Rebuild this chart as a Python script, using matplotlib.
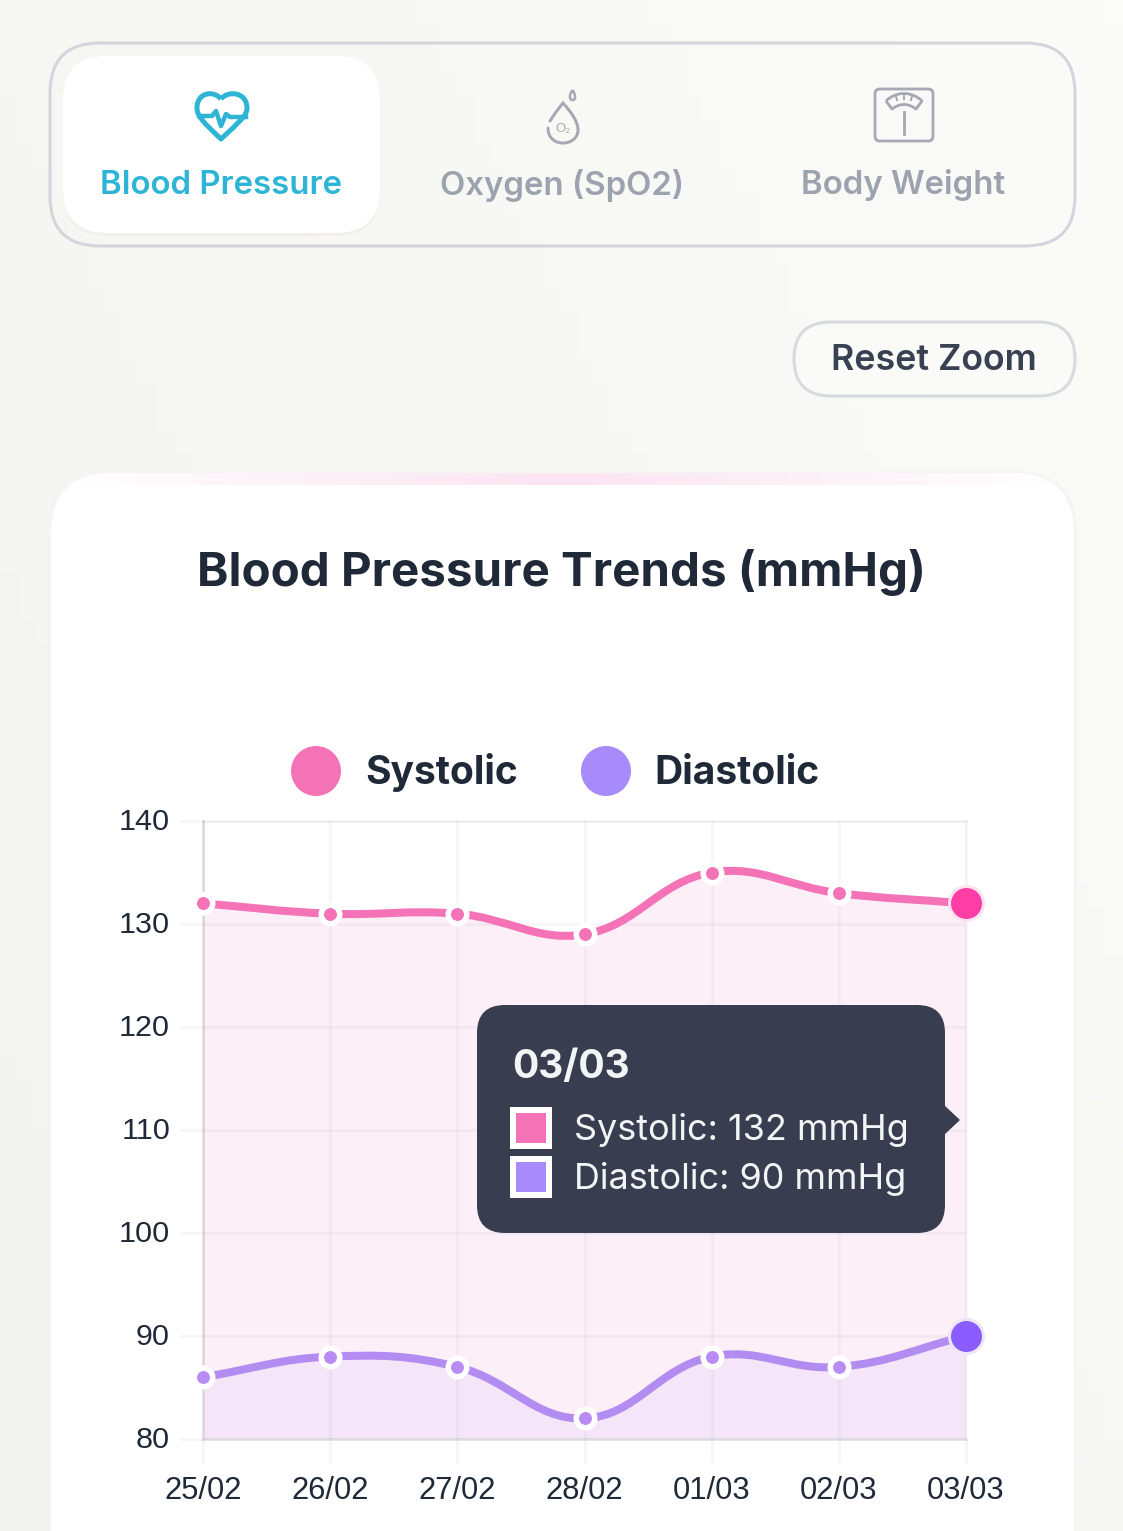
# plot.py
import numpy as np
import matplotlib
matplotlib.use("Agg")
import matplotlib.pyplot as plt
from matplotlib.patches import FancyBboxPatch, PathPatch, Circle, Rectangle, Polygon
from matplotlib.path import Path
from matplotlib.colors import LinearSegmentedColormap
from matplotlib.transforms import ScaledTranslation

W, H = 1123, 1531

dates = ["25/02", "26/02", "27/02", "28/02", "01/03", "02/03", "03/03"]
systolic = [132, 131, 131, 129, 135, 133, 132]
diastolic = [86, 88, 87, 82, 88, 87, 90]
y_ticks = [80, 90, 100, 110, 120, 130, 140]
tab_labels = ["Blood Pressure", "Oxygen (SpO2)", "Body Weight"]

PINK = "#f472b6"
PURPLE = "#a78bfa"
LINE_PURPLE = "#b28cf0"
DARK = "#1f2937"
TOOLTIP = "#383d4f"
GREY_TEXT = "#9ca3af"
ICON_GREY = "#a6a9b4"
CYAN = "#2eb5d6"
GRID = (0.1, 0.1, 0.25, 0.04)
AXIS = "#dfdde2"
INTER = ["Inter", "DejaVu Sans"]
ARIAL = ["Liberation Sans", "DejaVu Sans"]


def px(size):
    # css pixels to points
    return size * 72 / 100


def pixel_axes(zorder):
    ax = fig.add_axes([0, 0, 1, 1], zorder=zorder)
    ax.set_xlim(0, W)
    ax.set_ylim(H, 0)
    ax.axis("off")
    return ax


def round_box(ax, x0, y0, x1, y1, r, **kw):
    p = FancyBboxPatch((x0, y0), x1 - x0, y1 - y0,
                       boxstyle=f"round,pad=0,rounding_size={r}", **kw)
    ax.add_patch(p)
    return p


def spline_path(values, sx, sy, t=0.4):
    # same bezier control points as a chart.js line with tension 0.4
    pts = np.array(list(enumerate(values)), dtype=float)
    scale = np.array([sx, sy])
    n = len(pts)
    verts = [pts[0]]
    codes = [Path.MOVETO]
    before, after = [None] * n, [None] * n
    for i in range(n):
        prev = pts[max(i - 1, 0)]
        cur = pts[i]
        nxt = pts[min(i + 1, n - 1)]
        d01 = np.linalg.norm((cur - prev) * scale)
        d12 = np.linalg.norm((nxt - cur) * scale)
        s01 = d01 / (d01 + d12)
        s12 = d12 / (d01 + d12)
        before[i] = cur - t * s01 * (nxt - prev)
        after[i] = cur + t * s12 * (nxt - prev)
    for i in range(n - 1):
        verts += [after[i], before[i + 1], pts[i + 1]]
        codes += [Path.CURVE4] * 3
    return verts, codes


fig = plt.figure(figsize=(W / 100, H / 100), dpi=100)

# --- Background ---
bg = pixel_axes(0)
xx, yy = np.meshgrid(np.linspace(0, 1, 64), np.linspace(0, 1, 64))
bg_cmap = LinearSegmentedColormap.from_list("bg", ["#fbfbf9", "#f3f3ef"])
bg.imshow((1 - xx) * 0.6 + yy * 0.4, cmap=bg_cmap, extent=(0, W, H, 0), aspect="auto", vmin=0, vmax=1, zorder=0)
bg.set_xlim(0, W)
bg.set_ylim(H, 0)

# --- Tab bar ---
round_box(bg, 50, 43, 1075, 246, 50, fc="none", ec="#d3d5dd", lw=px(3), zorder=1)
round_box(bg, 63, 59, 380, 236, 44, fc="#ecebe8", ec="none", alpha=0.5, zorder=1)
round_box(bg, 63, 56, 380, 233, 44, fc="white", ec="none", zorder=2)
tab_x = [221, 562, 903]
tab_col = [CYAN, GREY_TEXT, GREY_TEXT]
for x, label, col in zip(tab_x, tab_labels, tab_col):
    bg.text(x, 185, label, ha="center", va="center", fontsize=px(33), fontweight="semibold",
            color=col, family=INTER, zorder=3)

# heart icon
heart = Path([(221, 99), (214, 90), (197, 92), (197, 108), (197, 116), (203, 122), (221, 139),
              (239, 122), (247, 116), (247, 108), (247, 92), (228, 90), (221, 99)],
             [Path.MOVETO] + [Path.CURVE4] * 12)
bg.add_patch(PathPatch(heart, fc="none", ec=CYAN, lw=px(5), joinstyle="round", zorder=3))
bg.plot([199, 212, 216, 221, 226, 230, 246], [116, 116, 111, 126, 114, 117, 117], color=CYAN, lw=px(4.5),
        solid_joinstyle="round", zorder=3)

# drop icon
small_drop = Path([(572.5, 90), (569, 95), (569, 100), (572.5, 100), (576, 100), (576, 95), (572.5, 90)],
                  [Path.MOVETO] + [Path.CURVE4] * 6)
bg.add_patch(PathPatch(small_drop, fc="none", ec=ICON_GREY, lw=px(2.5), zorder=3))
big_drop = Path([(550, 121), (557, 110), (563, 103), (563, 103), (572, 113), (578, 122), (578, 130),
                 (578, 138), (571, 143), (563, 143), (554, 143), (548, 137), (548, 128)],
                [Path.MOVETO] + [Path.CURVE4] * 12)
bg.add_patch(PathPatch(big_drop, fc="none", ec=ICON_GREY, lw=px(3), capstyle="round", zorder=3))
bg.text(563, 129, "O₂", ha="center", va="center", fontsize=px(13), color=ICON_GREY, family=ARIAL, zorder=3)

# scale icon
round_box(bg, 875, 89, 933, 141, 5, fc="none", ec=ICON_GREY, lw=px(2.8), zorder=3)
dial = Path([(886, 101), (896, 91), (912, 91), (922, 101), (916, 109), (908, 103), (900, 103), (892, 109), (886, 101)],
            [Path.MOVETO, Path.CURVE4, Path.CURVE4, Path.CURVE4, Path.LINETO, Path.CURVE4, Path.CURVE4, Path.CURVE4,
             Path.LINETO])
bg.add_patch(PathPatch(dial, fc="none", ec=ICON_GREY, lw=px(2.8), joinstyle="round", zorder=3))
for x0, y0, x1, y1 in [(896, 96, 897, 100), (904, 95, 904, 99), (912, 96, 911, 100)]:
    bg.plot([x0, x1], [y0, y1], color=ICON_GREY, lw=px(2), zorder=3)
bg.plot([904, 904], [112, 134], color=ICON_GREY, lw=px(2.8), zorder=3)

# --- Reset button ---
round_box(bg, 794, 322, 1075, 396, 37, fc="#fafaf8", ec="#d8dadf", lw=px(3), zorder=2)
bg.text(934, 361, "Reset Zoom", ha="center", va="center", fontsize=px(35.8), fontweight="semibold",
        color="#374151", family=INTER, zorder=3)

# --- Card ---
round_box(bg, 48, 471, 1077, 1640, 63, fc="#f4f4f2", ec="none", zorder=1)
card = round_box(bg, 51, 473, 1074, 1640, 61, fc="white", ec="none", zorder=2)
strip_cmap = LinearSegmentedColormap.from_list("strip", ["#ffffff", "#fce4f0", "#ffffff"])
strip = bg.imshow(np.linspace(0, 1, 256).reshape(1, -1), cmap=strip_cmap, extent=(60, 1065, 485, 473),
                  aspect="auto", zorder=3)
strip.set_clip_path(card)
bg.set_xlim(0, W)
bg.set_ylim(H, 0)

bg.text(561, 573, "Blood Pressure Trends (mmHg)", ha="center", va="center", fontsize=px(47.5), fontweight="bold",
        color=DARK, family=INTER, zorder=3)

# legend
bg.add_patch(Circle((316, 771), 25, fc=PINK, ec="none", zorder=3))
bg.text(365, 773, "Systolic", ha="left", va="center", fontsize=px(39), fontweight="bold", color=DARK,
        family=INTER, zorder=3)
bg.add_patch(Circle((606, 771), 25, fc=PURPLE, ec="none", zorder=3))
bg.text(654, 773, "Diastolic", ha="left", va="center", fontsize=px(39), fontweight="bold", color=DARK,
        family=INTER, zorder=3)

# --- Chart ---
left, right, top, bottom = 203, 966, 821, 1439
ax = fig.add_axes([left / W, (H - bottom) / H, (right - left) / W, (bottom - top) / H], zorder=2)
ax.patch.set_alpha(0)
ax.set_xlim(0, len(dates) - 1)
ax.set_ylim(80, 140)
ax.set_xticks(range(len(dates)), dates)
ax.set_yticks(y_ticks)
ax.set_axisbelow(False)
ax.grid(True, color=GRID[:3], alpha=GRID[3], lw=px(2.5))
ax.tick_params(axis="x", length=px(24), width=px(2.5), color=GRID, pad=px(13), labelsize=px(31), labelcolor=DARK)
ax.tick_params(axis="y", length=px(24), width=px(2.5), color=GRID, pad=px(9), labelsize=px(30.5), labelcolor=DARK)
for lab in ax.get_xticklabels() + ax.get_yticklabels():
    lab.set_family(ARIAL)
# y labels sit a little above their grid line
for lab in ax.get_yticklabels():
    lab.set_transform(lab.get_transform() + ScaledTranslation(0, 2 / 100, fig.dpi_scale_trans))
for side in ["top", "right"]:
    ax.spines[side].set_color(GRID)
    ax.spines[side].set_linewidth(px(2.5))
for side in ["left", "bottom"]:
    ax.spines[side].set_color(AXIS)
    ax.spines[side].set_linewidth(px(2.5))

sx = (right - left) / (len(dates) - 1)
sy = (bottom - top) / 60
series = [(systolic, PINK, PINK, "#fbdcee", "#ff3ea5", "#fbe3ee"),
          (diastolic, LINE_PURPLE, "#b98cf5", "#eedff9", "#8b5cff", "#ece7f6")]
for values, line_col, dot_col, fill_col, hover_col, ring_col in series:
    verts, codes = spline_path(values, sx, sy)
    # area down to the x axis
    area = Path(verts + [(len(values) - 1, 80), (0, 80), verts[0]],
                codes + [Path.LINETO, Path.LINETO, Path.CLOSEPOLY])
    alpha = 0.45 if values is systolic else 0.55
    ax.add_patch(PathPatch(area, fc=fill_col, ec="none", alpha=alpha, zorder=2))
    ax.add_patch(PathPatch(Path(verts, codes), fc="none", ec=line_col, lw=px(8), zorder=3, clip_on=False,
                           capstyle="round"))
    xs = np.arange(len(values))
    ax.plot(xs[:-1], values[:-1], "o", ms=px(18.5), mfc=dot_col, mec="white", mew=px(5.5), zorder=4, clip_on=False)
    ax.plot(xs[-1], values[-1], "o", ms=px(34), mfc=hover_col, mec=ring_col, mew=px(3), zorder=5, clip_on=False)

# --- Tooltip ---
fg = pixel_axes(3)
round_box(fg, 477, 1005, 945, 1233, 28, fc=TOOLTIP, ec="none", zorder=1)
fg.add_patch(Polygon([(944, 1105), (960, 1120), (944, 1135)], closed=True, fc=TOOLTIP, ec="none", zorder=1))
fg.text(512, 1067, dates[-1], ha="left", va="center", fontsize=px(39), fontweight="bold", color="#f3f4f6",
        family=INTER, zorder=2)
tooltip_rows = [(1107, f"Systolic: {systolic[-1]} mmHg", PINK), (1156, f"Diastolic: {diastolic[-1]} mmHg", PURPLE)]
for y, label, col in tooltip_rows:
    fg.add_patch(Rectangle((510, y), 42, 42, fc="white", ec="none", zorder=2))
    fg.add_patch(Rectangle((516, y + 6), 30, 30, fc=col, ec="none", zorder=3))
    fg.text(574, y + 23, label, ha="left", va="center", fontsize=px(36), color="#f3f4f6", family=INTER, zorder=2)

fig.savefig("out.png", dpi=100)
